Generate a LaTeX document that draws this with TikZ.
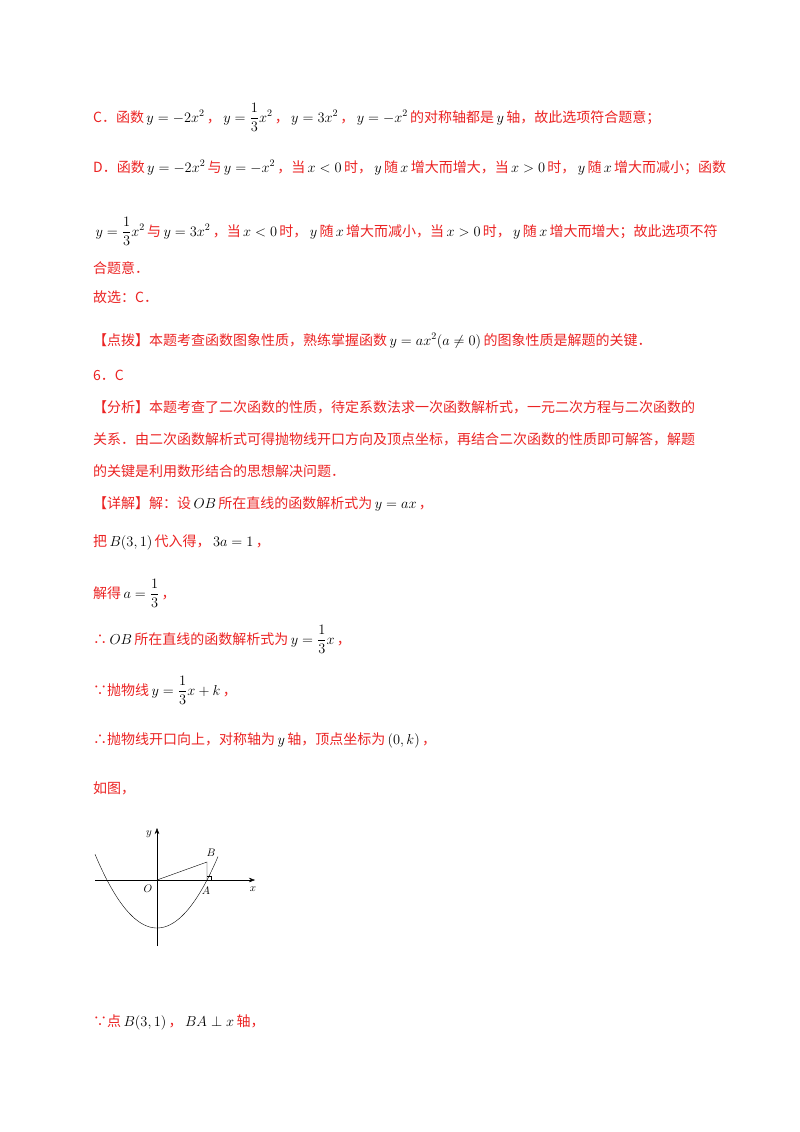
\documentclass[tikz,border=0pt]{standalone}
\usepackage{fontspec}
\usepackage{amsmath}
\setmainfont{Noto Sans CJK SC}
\usetikzlibrary{arrows.meta}
\definecolor{hong}{RGB}{235,35,35}
\tikzset{
 txt/.style={anchor=base west,inner sep=0pt,text=hong,font=\fontsize{14}{17}\selectfont},
 lbl/.style={inner sep=0pt,font=\fontsize{11}{13}\selectfont}
}
\newcommand{\m}[1]{\,\textcolor{black}{$#1$}\,}
\begin{document}
\begin{tikzpicture}[x=1pt,y=-1pt]
 \useasboundingbox (0,0) rectangle (800,1132);
 % text lines
 \node[txt] (l1) at (93,122) {C．函数\m{y=-2x^2}，\m{y=\dfrac{1}{3}x^2}，\m{y=3x^2}，\m{y=-x^2}的对称轴都是\m{y}轴，故此选项符合题意；};
 \node[txt] (l2) at (93,172) {D．函数\m{y=-2x^2}与\m{y=-x^2}，当\m{x<0}时，\m{y}随\m{x}增大而增大，当\m{x>0}时，\m{y}随\m{x}增大而减小；函数};
 \node[txt] (l3) at (93,236) {\m{y=\dfrac{1}{3}x^2}与\m{y=3x^2}，当\m{x<0}时，\m{y}随\m{x}增大而减小，当\m{x>0}时，\m{y}随\m{x}增大而增大；故此选项不符};
 \node[txt] (l4) at (93,273) {合题意．};
 \node[txt] (l5) at (93,302) {故选：C．};
 \node[txt] (l6) at (93,345) {【点拨】本题考查函数图象性质，熟练掌握函数\m{y=ax^2(a\neq0)}的图象性质是解题的关键．};
 \node[txt] (l7) at (93,380) {6．C};
 \node[txt] (l8) at (93,412) {【分析】本题考查了二次函数的性质，待定系数法求一次函数解析式，一元二次方程与二次函数的};
 \node[txt] (l9) at (93,444) {关系．由二次函数解析式可得抛物线开口方向及顶点坐标，再结合二次函数的性质即可解答，解题};
 \node[txt] (l10) at (93,476) {的关键是利用数形结合的思想解决问题．};
 \node[txt] (l11) at (93,508) {【详解】解：设\m{OB}所在直线的函数解析式为\m{y=ax}，};
 \node[txt] (l12) at (93,546) {把\m{B(3,1)}代入得，\m{3a=1}，};
 \node[txt] (l13) at (93,598) {解得\m{a=\dfrac{1}{3}}，};
 \node[txt] (l14) at (93,644) {∴\m{OB}所在直线的函数解析式为\m{y=\dfrac{1}{3}x}，};
 \node[txt] (l15) at (93,695) {∵抛物线\m{y=\dfrac{1}{3}x+k}，};
 \node[txt] (l16) at (93,744) {∴抛物线开口向上，对称轴为\m{y}轴，顶点坐标为\m{(0,k)}，};
 \node[txt] (l17) at (93,793) {如图，};
 \node[txt] (l18) at (93,1026) {∵点\m{B(3,1)}，\m{BA\perp x}轴，};
 % graph
 \coordinate (O) at (157,880);
 \coordinate (A) at (207,880);
 \coordinate (B) at (207,862);
 \coordinate (xl) at (95,880);
 \coordinate (xr) at (255,880);
 \coordinate (yb) at (157,946);
 \coordinate (yt) at (157,828);
 \draw[-{Stealth[length=6pt]}] (xl) -- (xr);
 \draw[-{Stealth[length=6pt]}] (yb) -- (yt);
 \draw plot[domain=95:218,samples=60,smooth] (\x,{928-48*((\x-157)/50)^2});
 \draw (O) -- (B) -- (A);
 \draw (A) ++(0,-4) -- ++(4,0) -- ++(0,4);
 \node[lbl] (nO) at (148,889) {$O$};
 \node[lbl] (nA) at (206,891) {$A$};
 \node[lbl] (nB) at (211,853) {$B$};
 \node[lbl] (nx) at (253,889) {$x$};
 \node[lbl] (ny) at (149,834) {$y$};
\end{tikzpicture}
\end{document}
